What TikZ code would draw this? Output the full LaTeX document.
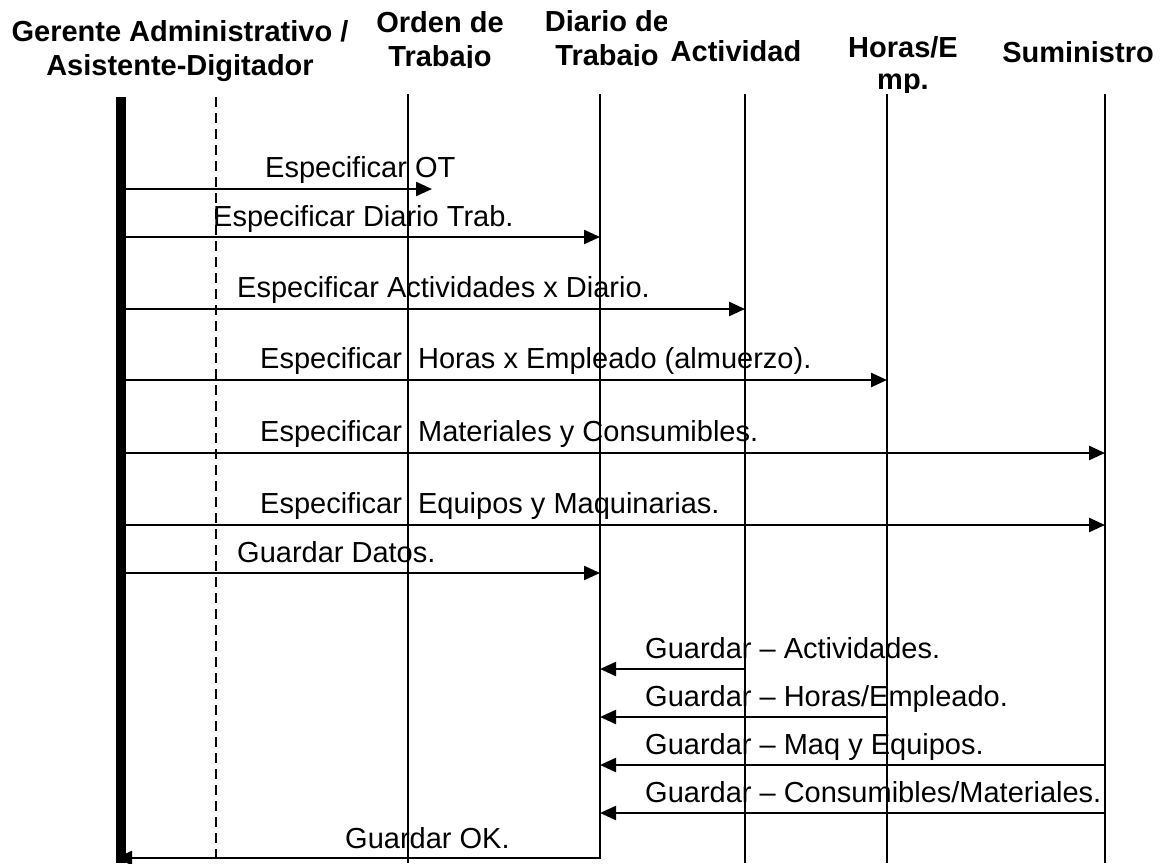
\documentclass[tikz,border=0pt]{standalone}
\usepackage{fontspec}
\setmainfont{Liberation Sans}
\usetikzlibrary{arrows.meta}
\begin{document}
\begin{tikzpicture}[x=1pt,y=-1pt,
  hdr/.style={font=\fontsize{29}{34}\selectfont\bfseries, align=center, inner sep=0pt},
  lbl/.style={font=\fontsize{29}{33}\selectfont, anchor=base west, inner sep=0pt},
  life/.style={line width=1.6pt},
  actor/.style={line width=10pt},
  dashlife/.style={line width=1.5pt, dash pattern=on 10pt off 6pt},
  msg/.style={line width=2.4pt, -{Triangle[length=16pt,width=14pt]}},
]
\useasboundingbox (0,0) rectangle (1162,863);
% headers
\node[hdr] (hG) at (180,51) {Gerente Administrativo /\\Asistente-Digitador};
\begin{scope}
  \clip (365,0) rectangle (515,67);
  \node[hdr] (hO) at (440,41.5) {Orden de\\Trabajo};
\end{scope}
\begin{scope}
  \clip (538,0) rectangle (666,65);
  \node[hdr] (hD) at (607,41) {Diario de\\Trabajo};
\end{scope}
\node[hdr, anchor=base] (hA) at (736,61) {Actividad};
\begin{scope}
  \clip (835,0) rectangle (970,92);
  \node[hdr, font=\fontsize{29}{32}\selectfont\bfseries] (hH) at (903,66) {Horas/E\\mp.};
\end{scope}
\node[hdr, anchor=base] (hS) at (1078,62) {Suministro};
% lifelines
\coordinate (gT) at (121,97);  \coordinate (gB) at (121,863);
\coordinate (dT) at (216,97);  \coordinate (dB) at (216,863);
\coordinate (oT) at (408,94);  \coordinate (oB) at (408,863);
\coordinate (jT) at (600,94);  \coordinate (jB) at (600,859);
\coordinate (aT) at (745,94);  \coordinate (aB) at (745,863);
\coordinate (pT) at (887,94);  \coordinate (pB) at (887,863);
\coordinate (sT) at (1105,94); \coordinate (sB) at (1105,863);
\draw[actor] (gT) -- (gB);
\draw[dashlife] (dT) -- (dB);
\draw[life] (oT) -- (oB);
\draw[life] (jT) -- (jB);
\draw[life] (aT) -- (aB);
\draw[life] (pT) -- (pB);
\draw[life] (sT) -- (sB);
% message end points
\coordinate (s1) at (126,189); \coordinate (e1) at (432,189);
\coordinate (s2) at (126,237); \coordinate (e2) at (600,237);
\coordinate (s3) at (126,309); \coordinate (e3) at (745,309);
\coordinate (s4) at (126,380); \coordinate (e4) at (887,380);
\coordinate (s5) at (126,453); \coordinate (e5) at (1105,453);
\coordinate (s6) at (126,525); \coordinate (e6) at (1105,525);
\coordinate (s7) at (126,573); \coordinate (e7) at (600,573);
\coordinate (s8) at (745,669); \coordinate (e8) at (600,669);
\coordinate (s9) at (887,717); \coordinate (e9) at (600,717);
\coordinate (s10) at (1105,765); \coordinate (e10) at (600,765);
\coordinate (s11) at (1105,813); \coordinate (e11) at (600,813);
\coordinate (s12) at (600,858); \coordinate (e12) at (116,858);
\foreach \i in {1,...,12} { \draw[msg] (s\i) -- (e\i); }
% labels
\node[lbl] (l1) at (265,177) {Especificar OT};
\node[lbl] (l2) at (213,226) {Especificar Diario Trab.};
\node[lbl] (l3) at (237,297) {Especificar Actividades x Diario.};
\node[lbl] (l4) at (260,368) {Especificar\ \ Horas x Empleado (almuerzo).};
\node[lbl] (l5) at (260,441) {Especificar\ \ Materiales y Consumibles.};
\node[lbl] (l6) at (260,513) {Especificar\ \ Equipos y Maquinarias.};
\node[lbl] (l7) at (237,562) {Guardar Datos.};
\node[lbl] (l8) at (645,658) {Guardar – Actividades.};
\node[lbl] (l9) at (645,706) {Guardar – Horas/Empleado.};
\node[lbl] (l10) at (645,754) {Guardar – Maq y Equipos.};
\node[lbl] (l11) at (645,802) {Guardar – Consumibles/Materiales.};
\node[lbl] (l12) at (345,848) {Guardar OK.};
\end{tikzpicture}
\end{document}
